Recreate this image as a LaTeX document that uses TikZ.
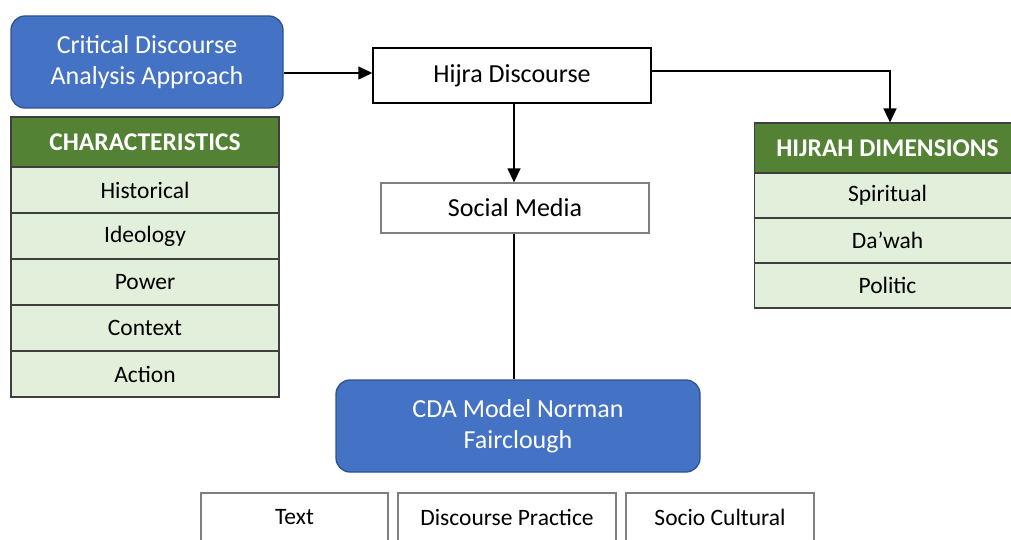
\documentclass[tikz,border=0pt]{standalone}
\usepackage{fontspec}
\setmainfont{Carlito}
\usetikzlibrary{arrows.meta,calc}
\definecolor{blueFill}{HTML}{4472C4}
\definecolor{blueEdge}{HTML}{2F528F}
\definecolor{greenHead}{HTML}{548235}
\definecolor{greenRow}{HTML}{E2EFDA}
\definecolor{tableEdge}{HTML}{3F3F3F}
\definecolor{grayEdge}{HTML}{7F7F7F}
\tikzset{
  bluebox/.style={draw=blueEdge, line width=1.3pt, fill=blueFill, rounded corners=14pt,
    text=white, align=center, inner sep=0pt, font=\fontsize{26}{31}\selectfont},
  plainbox/.style={draw=black, line width=1.5pt, fill=white, inner sep=0pt,
    font=\fontsize{26}{31}\selectfont},
  graybox/.style={draw=grayEdge, line width=1.3pt, fill=white, inner sep=0pt,
    font=\fontsize{26}{31}\selectfont},
  headcell/.style={draw=tableEdge, line width=1.2pt, fill=greenHead, text=white,
    inner sep=0pt, font=\fontsize{25.5}{30}\selectfont\bfseries},
  rowcell/.style={draw=tableEdge, line width=1.2pt, fill=greenRow, inner sep=0pt,
    font=\fontsize{23.5}{28}\selectfont},
  headlabel/.style={text=white, inner sep=0pt, font=\fontsize{25.5}{30}\selectfont\bfseries},
  rowlabel/.style={inner sep=0pt, font=\fontsize{23.5}{28}\selectfont},
  modelcell/.style={draw=grayEdge, line width=1.3pt, fill=white, inner sep=0pt,
    font=\fontsize{23.5}{28}\selectfont},
  link/.style={line width=1.5pt, draw=black},
  arrowlink/.style={link, -{Triangle[length=14pt,width=13pt]}}
}
\begin{document}
\begin{tikzpicture}[x=1pt,y=-1pt]
\useasboundingbox (0,0) rectangle (1011,540);

% approach and discourse boxes
\node[bluebox, minimum width=272pt, minimum height=92pt] (cda) at (147,62)
  {Critical Discourse\\Analysis Approach};
\node[plainbox, minimum width=278pt, minimum height=55pt] (hijra) at (512,75.5) {Hijra Discourse};
\node[graybox, minimum width=268pt, minimum height=50pt] (social) at (515,208) {Social Media};
\node[bluebox, minimum width=364pt, minimum height=92pt] (model) at (518,426)
  {CDA Model Norman\\Fairclough};

% characteristics table
\node[headcell, minimum width=268pt, minimum height=50pt] (charhead) at (145,142) {CHARACTERISTICS};
\node[rowcell, minimum width=268pt, minimum height=46pt] (c1) at (145,190) {Historical};
\node[rowcell, minimum width=268pt, minimum height=46pt] (c2) at (145,236) {Ideology};
\node[rowcell, minimum width=268pt, minimum height=46pt] (c3) at (145,282) {Power};
\node[rowcell, minimum width=268pt, minimum height=46pt] (c4) at (145,328) {Context};
\node[rowcell, minimum width=268pt, minimum height=46pt] (c5) at (145,374) {Action};

% hijrah dimensions table (runs past the right edge)
\node[headcell, minimum width=300pt, minimum height=50pt, anchor=west] (dimhead) at (754,148) {};
\node[rowcell, minimum width=300pt, minimum height=45pt, anchor=west] (d1) at (754,195.5) {};
\node[rowcell, minimum width=300pt, minimum height=45pt, anchor=west] (d2) at (754,240.5) {};
\node[rowcell, minimum width=300pt, minimum height=45pt, anchor=west] (d3) at (754,285.5) {};
\node[headlabel] (dimheadtext) at (887.5,148) {HIJRAH DIMENSIONS};
\node[rowlabel] (d1text) at (887.5,195.5) {Spiritual};
\node[rowlabel] (d2text) at (887.5,240.5) {Da’wah};
\node[rowlabel] (d3text) at (887.5,285.5) {Politic};

% Fairclough dimensions
\node[modelcell, minimum width=187pt, minimum height=48pt] (text) at (294.5,517) {Text};
\node[modelcell, minimum width=218pt, minimum height=48pt] (practice) at (507,517) {Discourse Practice};
\node[modelcell, minimum width=188pt, minimum height=48pt] (socio) at (720,517) {Socio Cultural};

% connectors
\draw[arrowlink] (cda.east |- 0,73) -- (hijra.west |- 0,73);
\draw[arrowlink] (hijra.east |- 0,71) -| (dimhead.north -| 890,0);
\draw[arrowlink] (hijra.south -| 514,0) -- (social.north -| 514,0);
\draw[link] (social.south -| 514,0) -- (model.north -| 514,0);
\end{tikzpicture}
\end{document}
